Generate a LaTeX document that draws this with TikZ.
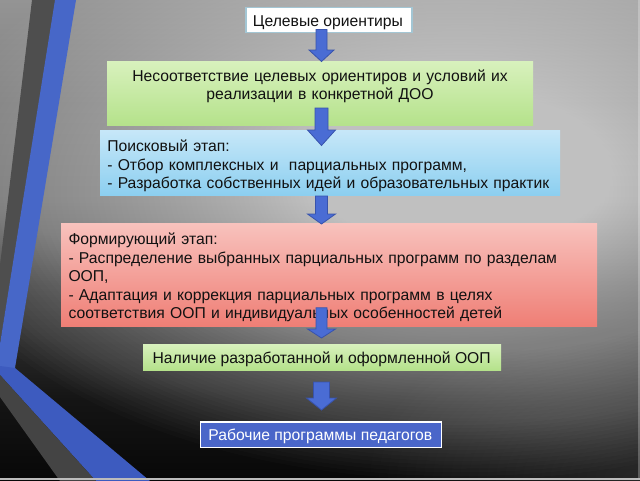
\documentclass[tikz,border=0pt]{standalone}
\usepackage{fontspec}
\setmainfont{Liberation Sans}
\usetikzlibrary{calc}
\definecolor{stripeGray}{HTML}{4E4E4E}
\definecolor{stripeGrayLow}{HTML}{444444}
\definecolor{stripeBlue}{HTML}{4767C8}
\definecolor{stripeBlueLow}{HTML}{3D5BBF}
\definecolor{edgeLine}{HTML}{BCBCBC}
\definecolor{oneBorder}{HTML}{A3C6D4}
\definecolor{greenTop}{HTML}{D8F1BD}
\definecolor{greenBot}{HTML}{B5E28B}
\definecolor{blueTop}{HTML}{C6E7F8}
\definecolor{blueBot}{HTML}{8CCFF0}
\definecolor{redTop}{HTML}{F8C2BD}
\definecolor{redBot}{HTML}{EF7E75}
\definecolor{navyBox}{HTML}{4A66C9}
\definecolor{arrowFill}{HTML}{4A6CD4}
\definecolor{arrowLine}{HTML}{3853AC}
\definecolor{txtcol}{HTML}{111111}
\newcommand\fsmain{\fontsize{15.7}{18.3}\selectfont}
\newcommand\fsred{\fontsize{15.7}{18.5}\selectfont}
\newcommand\mkarrow[5]{%
  \filldraw[arrowsty] let \p1=(#1), \p2=(#2) in
  (\x1-#3pt,\y1) -- (\x1+#3pt,\y1) -- (\x1+#3pt,\y2+#5pt) -- (\x1+#4pt,\y2+#5pt)
  -- (\x1,\y2) -- (\x1-#4pt,\y2+#5pt) -- (\x1-#3pt,\y2+#5pt) -- cycle;}
\begin{document}
\begin{tikzpicture}[x=1pt,y=-1pt,
  boxsty/.style={inner sep=0pt, outer sep=0pt, anchor=north west},
  txt/.style={inner sep=0pt, outer sep=0pt, font=\fsmain, text=txtcol},
  arrowsty/.style={fill=arrowFill, draw=arrowLine, line width=0.8pt, line join=miter}]
\useasboundingbox (0,0) rectangle (640,480);
% background
\shade[top color=white!58!black, bottom color=white!43!black] (0,0) rectangle (640,200.5);
\shade[top color=white!43!black, bottom color=white!22!black] (0,200) rectangle (640,300.5);
\shade[top color=white!22!black, bottom color=white!8!black] (0,300) rectangle (640,400.5);
\shade[top color=white!8!black, bottom color=white!3!black] (0,400) rectangle (640,480);
\foreach \i in {1,...,150} {
  \pgfmathsetmacro\rr{(\i/150)^2}
  \fill[white, fill opacity=0.0148] (460,190) ellipse ({540*\rr} and {290*\rr});
}
\foreach \i in {1,...,30} {
  \fill[white, fill opacity=0.007] (640,480) ellipse ({\i*9} and {\i*5.5});
}
% stripes
\fill[stripeGray] (32,0) -- (56,0) -- (0,344) -- (0,265) -- cycle;
\fill[stripeBlue] (55,0) -- (76,0) -- (15,368) -- (0,368) -- (0,344) -- cycle;
\fill[stripeBlueLow] (0,366) -- (15,368) -- (150,481) -- (96,481) -- (0,375) -- cycle;
\fill[stripeGrayLow] (0,375) -- (96,481) -- (60,481) -- (0,397) -- cycle;
\fill[edgeLine] (0,478.3) rectangle (640,480);
\fill[white, fill opacity=0.25] (638.3,0) rectangle (640,478.3);
% boxes
\node[boxsty, minimum width=166pt, minimum height=25pt, fill=white, draw=oneBorder, line width=1.2pt] (b1) at (246,7.3) {};
\node[boxsty, minimum width=426pt, minimum height=64pt, top color=greenTop, bottom color=greenBot] (b2) at (107,61) {};
\node[boxsty, minimum width=460pt, minimum height=64.5pt, top color=blueTop, bottom color=blueBot] (b3) at (100,130.5) {};
\node[boxsty, minimum width=536pt, minimum height=103.5pt, top color=redTop, bottom color=redBot] (b4) at (61,223.3) {};
\node[boxsty, minimum width=358pt, minimum height=26pt, top color=greenTop, bottom color=greenBot] (b5) at (143,344) {};
\node[boxsty, minimum width=241pt, minimum height=25.5pt, fill=navyBox, draw=white, line width=1.4pt] (b6) at (200.5,422) {};
% texts
\node[txt, anchor=base] (t1) at (328,26.8) {Целевые ориентиры};
\node[txt, anchor=base, text width=426pt, align=center] (t2) at (320,81.5)
  {Несоответствие целевых ориентиров и условий их\\реализации в конкретной ДОО};
\node[txt, anchor=base west, text width=455pt, align=left] (t3) at (107.3,151.7)
  {Поисковый этап:\\- Отбор комплексных и\ \ парциальных программ,\\- Разработка собственных идей и образовательных практик};
\node[txt, font=\fsred, anchor=base west, text width=530pt, align=left] (t4) at (68.5,244.5)
  {Формирующий этап:\\- Распределение выбранных парциальных программ по разделам\\ООП,\\- Адаптация и коррекция парциальных программ в целях\\соответствия ООП и индивидуальных особенностей детей};
\node[txt, anchor=base] (t5) at (321.7,363.3) {Наличие разработанной и оформленной ООП};
\node[txt, anchor=base, text=white] (t6) at (320.3,440.7) {Рабочие программы педагогов};
% arrows
\coordinate (axis) at (321.5,0);
\coordinate (a1s) at ($(axis |- b1.south)+(0,-2.8)$);
\coordinate (a1e) at ($(axis |- b2.north)+(0,0.5)$);
\coordinate (a2s) at ($(axis |- b2.south)+(0,-17)$);
\coordinate (a2e) at ($(axis |- b3.north)+(0,15)$);
\coordinate (a3s) at ($(axis |- b3.south)+(0,1)$);
\coordinate (a3e) at ($(axis |- b4.north)+(0,0.7)$);
\coordinate (a4s) at ($(axis |- b4.south)+(0,-19)$);
\coordinate (a4e) at ($(axis |- b5.north)+(0,-6)$);
\coordinate (a5s) at ($(axis |- b5.south)+(0,12)$);
\coordinate (a5e) at ($(axis |- b6.north)+(0,-12)$);
\mkarrow{a1s}{a1e}{5.5}{12.5}{11.5}
\mkarrow{a2s}{a2e}{6.5}{14}{15.5}
\mkarrow{a3s}{a3e}{6}{14}{10}
\mkarrow{a4s}{a4e}{5.5}{14}{9}
\mkarrow{a5s}{a5e}{8}{15}{12}
\end{tikzpicture}
\end{document}
